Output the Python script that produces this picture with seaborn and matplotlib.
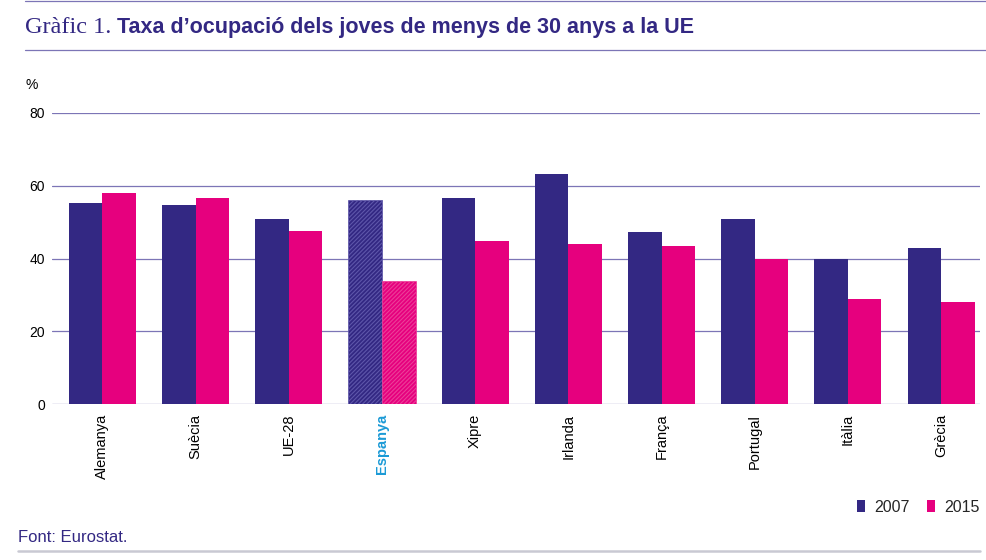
import pandas as pd
import matplotlib
matplotlib.use("Agg")
import matplotlib.pyplot as plt
import seaborn as sns
from matplotlib.lines import Line2D
from matplotlib.patches import Patch

paisos = ["Alemanya", "Suècia", "UE-28", "Espanya", "Xipre", "Irlanda",
          "França", "Portugal", "Itàlia", "Grècia"]
taxa_2007 = [55.2, 54.6, 50.9, 56.0, 56.6, 63.2, 47.3, 50.9, 40.0, 43.0]
taxa_2015 = [58.0, 56.7, 47.5, 33.9, 44.9, 44.0, 43.4, 39.9, 28.8, 28.1]
anys = ["2007", "2015"]
yticks = [0, 20, 40, 60, 80]

df = pd.DataFrame({
    "pais": paisos * 2,
    "any": [anys[0]] * len(paisos) + [anys[1]] * len(paisos),
    "taxa": taxa_2007 + taxa_2015,
})

lila = "#332883"
magenta = "#e6007e"
blau = "#1b9ad6"
linia = "#7c75b6"

sns.set_theme(style="white")
plt.rcParams["font.family"] = ["Liberation Sans", "DejaVu Sans"]
plt.rcParams["hatch.linewidth"] = 0.8

fig = plt.figure(figsize=(9.86, 5.6), dpi=100)
W, H = 986, 560
ax = fig.add_axes([52 / W, 1 - 404 / H, 928 / W, 291 / H])

sns.barplot(data=df, x="pais", y="taxa", hue="any", palette=[lila, magenta],
            saturation=1, width=0.72, errorbar=None, linewidth=0,
            legend=False, ax=ax)

# Espanya ratllada
ax.containers[0][3].set_hatch("////////")
ax.containers[0][3].set_edgecolor("#5e56aa")
ax.containers[0][3].set_linewidth(0.5)
ax.containers[1][3].set_hatch("////////")
ax.containers[1][3].set_edgecolor("#ec3f98")
ax.containers[1][3].set_linewidth(0.5)

ax.set_xlim(-0.541, 9.418)
ax.set_ylim(0, 80)
ax.set_yticks(yticks)
ax.set_xlabel("")
ax.set_ylabel("")
ax.yaxis.grid(True, color=linia, lw=0.9)
ax.set_axisbelow(True)
for s in ax.spines.values():
    s.set_visible(False)
ax.tick_params(axis="y", length=0, pad=5, labelsize=10, labelcolor="black")
ax.tick_params(axis="x", length=0, pad=7, labelsize=10.5, labelcolor="black",
               labelrotation=90)
lab = ax.get_xticklabels()[3]
lab.set_color(blau)
lab.set_fontweight("bold")

# títol
t1 = fig.text(25 / W, 1 - 33 / H, "Gràfic 1.", family=["Liberation Serif"],
              size=17.5, color=lila, va="baseline")
fig.canvas.draw()
bb = t1.get_window_extent()
fig.text((bb.x1 + 6) / W, 1 - 33 / H,
         "Taxa d’ocupació dels joves de menys de 30 anys a la UE",
         size=15.5, weight="bold", color=lila, va="baseline")

fig.add_artist(Line2D([25 / W, 1], [1 - 0.8 / H] * 2, color=linia, lw=0.9))
fig.add_artist(Line2D([25 / W, 1], [1 - 50 / H] * 2, color=linia, lw=0.9))
fig.add_artist(Line2D([18 / W, 980 / W], [1 - 551 / H] * 2, color="#c9c9d3", lw=1.8))

fig.text(26 / W, 1 - 85 / H, "%", size=10, va="center", color="black")
fig.text(18 / W, 1 - 537 / H, "Font: Eurostat.", size=12, va="center", color=lila)

handles = [Patch(facecolor=lila, linewidth=0, label=anys[0]),
           Patch(facecolor=magenta, linewidth=0, label=anys[1])]
fig.legend(handles=handles, loc="center right", bbox_to_anchor=(980 / W, 1 - 507 / H),
           ncol=2, frameon=False, fontsize=11.5, handlelength=0.5, handleheight=0.85,
           handletextpad=0.6, columnspacing=1.1, borderaxespad=0, borderpad=0)

fig.savefig("out.png", dpi=100)
